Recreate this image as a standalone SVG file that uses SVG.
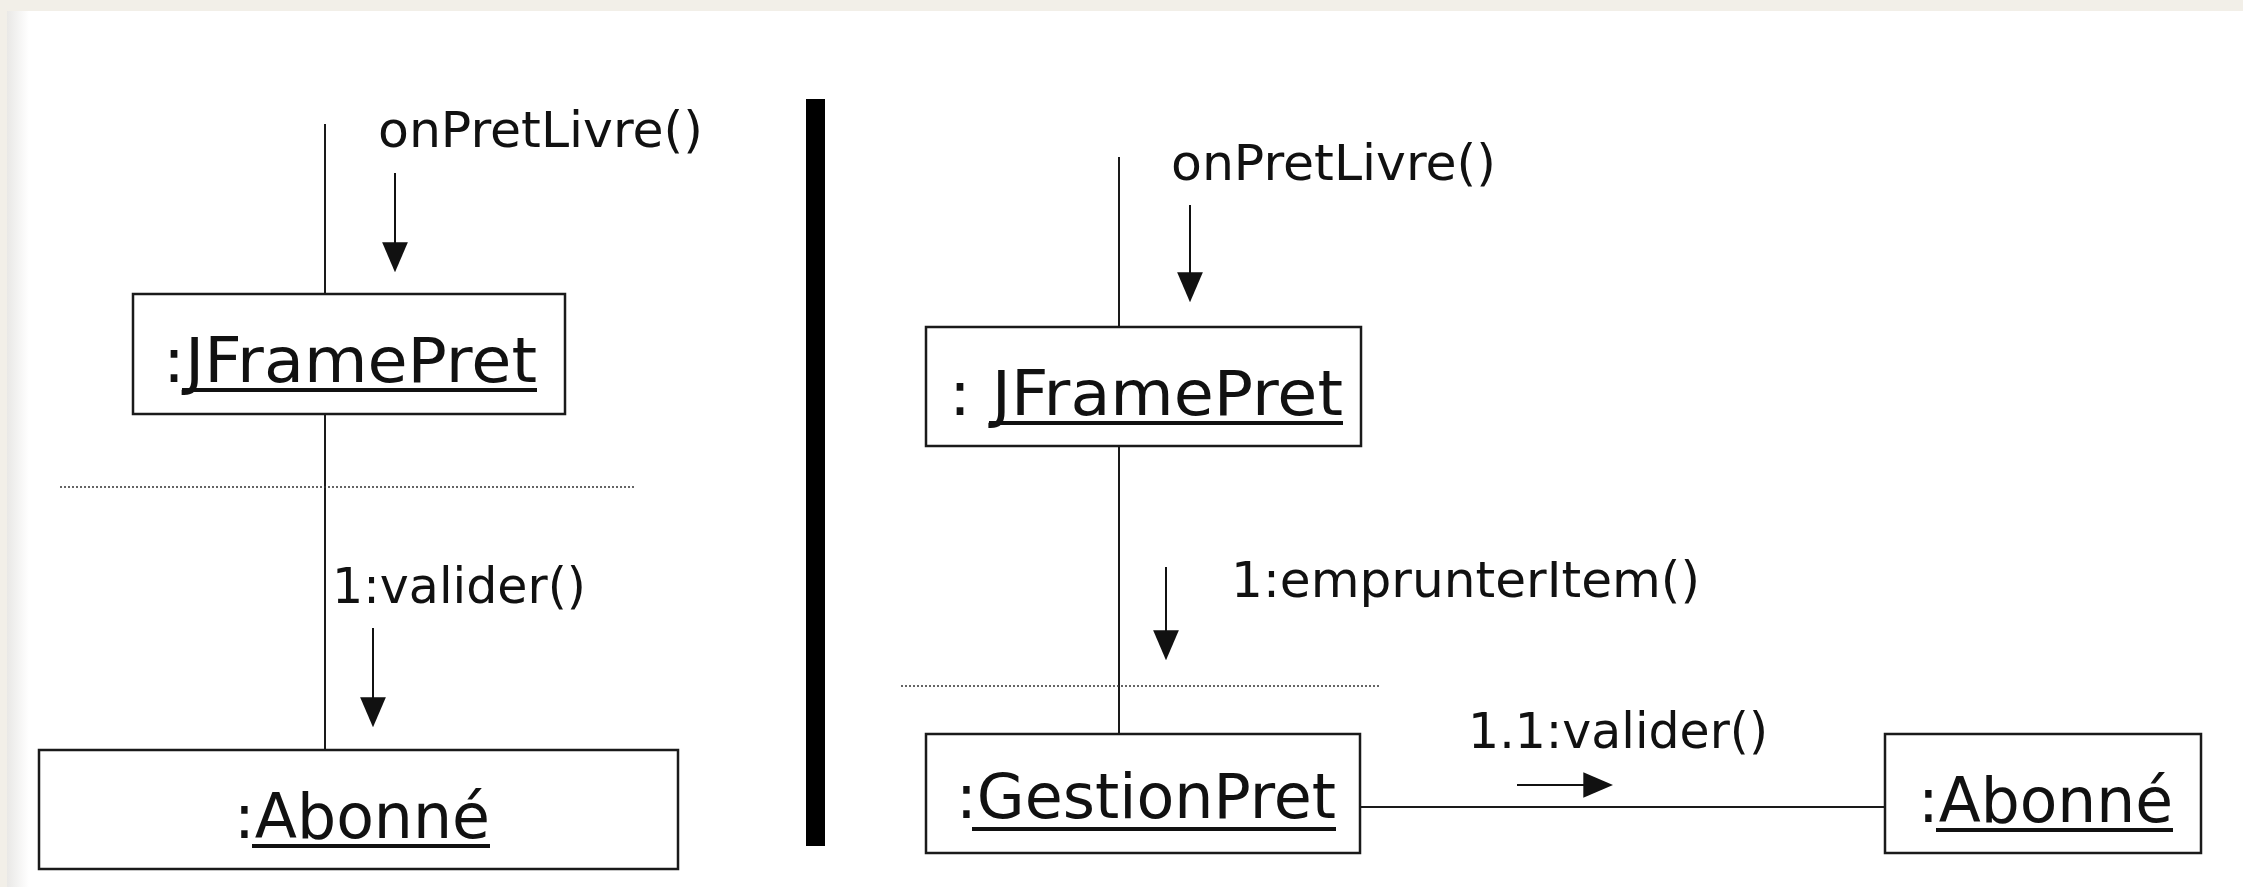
<svg xmlns="http://www.w3.org/2000/svg" width="2243" height="887" viewBox="0 0 2243 887">
<style>
.lbl{font-family:"DejaVu Sans","Verdana",sans-serif;font-size:50px;fill:#111}
.obj{font-family:"DejaVu Sans","Verdana",sans-serif;font-size:62px;fill:#111}
.box{fill:#fff;stroke:#1a1a1a;stroke-width:2.5}
.ul{stroke:#111;stroke-width:4}
.life{stroke:#1a1a1a;stroke-width:2;fill:none}
.msg{stroke:#111;stroke-width:2;fill:none;marker-end:url(#ah)}
.dot{stroke:#333;stroke-width:1.6;stroke-dasharray:2 2;fill:none}
</style>
<defs>
<marker id="ah" markerUnits="userSpaceOnUse" markerWidth="30" markerHeight="26" refX="24" refY="12" orient="auto" viewBox="0 0 28 24">
<path d="M0,0 L28,12 L0,24 Z" fill="#111"/>
</marker>
<linearGradient id="edge" x1="0" y1="0" x2="1" y2="0">
<stop offset="0" stop-color="#e9e8e6"/>
<stop offset="1" stop-color="#ffffff"/>
</linearGradient>
</defs>
<rect x="0" y="0" width="2243" height="887" fill="#f2efe8"/>
<rect x="7" y="11" width="2236" height="876" fill="#ffffff"/>
<rect x="7" y="11" width="22" height="876" fill="url(#edge)"/>

<g id="connectors">
<line class="life" x1="325" y1="124" x2="325" y2="750"/>
<line class="life" x1="1119" y1="157" x2="1119" y2="734"/>
<line class="life" x1="1360" y1="807" x2="1885" y2="807"/>
<line class="dot" x1="60" y1="487" x2="636" y2="487"/>
<line class="dot" x1="901" y1="686" x2="1380" y2="686"/>
<rect x="806" y="99" width="19" height="747" fill="#000"/>
<line class="msg" x1="395" y1="173" x2="395" y2="268"/>
<line class="msg" x1="373" y1="628" x2="373" y2="723"/>
<line class="msg" x1="1190" y1="205" x2="1190" y2="298"/>
<line class="msg" x1="1166" y1="567" x2="1166" y2="656"/>
<line class="msg" x1="1517" y1="785" x2="1609" y2="785"/>
<text class="lbl" x="378" y="147" textLength="325" lengthAdjust="spacingAndGlyphs">onPretLivre()</text>
<text class="lbl" x="332" y="603" textLength="254" lengthAdjust="spacingAndGlyphs">1:valider()</text>
<text class="lbl" x="1171" y="180" textLength="325" lengthAdjust="spacingAndGlyphs">onPretLivre()</text>
<text class="lbl" x="1231" y="597" textLength="469" lengthAdjust="spacingAndGlyphs">1:emprunterItem()</text>
<text class="lbl" x="1468" y="748" textLength="300" lengthAdjust="spacingAndGlyphs">1.1:valider()</text>
</g>

<g id="jframepret-left">
<rect class="box" x="133" y="294" width="432" height="120"/>
<text class="obj" x="163" y="382" textLength="374" lengthAdjust="spacingAndGlyphs">:JFramePret</text>
<line class="ul" x1="182" y1="390" x2="537" y2="390"/>
</g>

<g id="abonne-left">
<rect class="box" x="39" y="750" width="639" height="119"/>
<text class="obj" x="234" y="838" textLength="256" lengthAdjust="spacingAndGlyphs">:Abonné</text>
<line class="ul" x1="252" y1="846" x2="490" y2="846"/>
</g>

<g id="jframepret-right">
<rect class="box" x="926" y="327" width="435" height="119"/>
<text class="obj" x="949" y="415" textLength="394" lengthAdjust="spacingAndGlyphs">: JFramePret</text>
<line class="ul" x1="989" y1="423" x2="1343" y2="423"/>
</g>

<g id="gestionpret">
<rect class="box" x="926" y="734" width="434" height="119"/>
<text class="obj" x="956" y="818" textLength="380" lengthAdjust="spacingAndGlyphs">:GestionPret</text>
<line class="ul" x1="972" y1="829" x2="1336" y2="829"/>
</g>

<g id="abonne-right">
<rect class="box" x="1885" y="734" width="316" height="119"/>
<text class="obj" x="1918" y="822" textLength="255" lengthAdjust="spacingAndGlyphs">:Abonné</text>
<line class="ul" x1="1936" y1="830" x2="2173" y2="830"/>
</g>
</svg>
